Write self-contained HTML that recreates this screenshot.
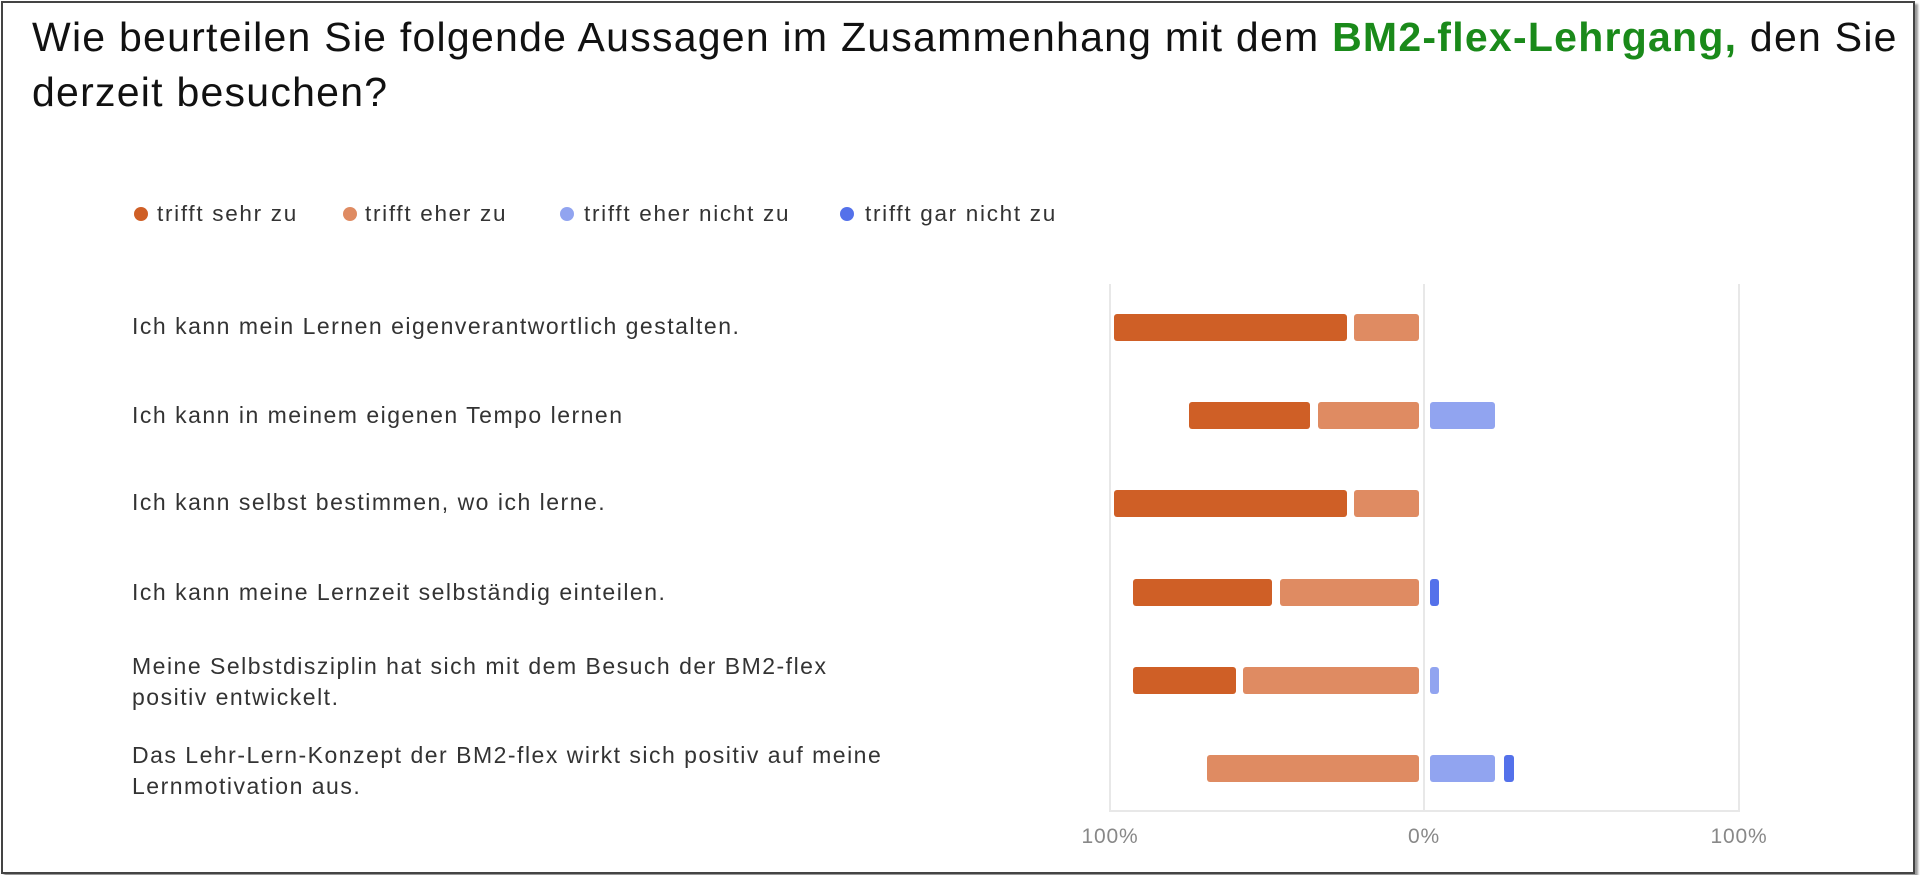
<!DOCTYPE html>
<html><head><meta charset="utf-8"><style>
body{margin:0;width:1920px;height:875px;background:#fff;overflow:hidden;font-family:"Liberation Sans",Arial,sans-serif;position:relative}
.frame{position:absolute;left:1px;top:1px;width:1910px;height:869px;border:2px solid #444;box-shadow:3px 3px 2px #999}
.t{position:absolute;left:32px;top:10px;font-size:41px;line-height:55px;color:#111;letter-spacing:1.25px;white-space:nowrap}
.lg{position:absolute;top:200px;font-size:22.5px;color:#333;line-height:28px;letter-spacing:1.7px;white-space:nowrap}
.dot{position:absolute;width:14px;height:14px;border-radius:50%;top:207px}
.lab{position:absolute;left:132px;font-size:23px;color:#333;line-height:31px;letter-spacing:1.5px;white-space:nowrap}
.g{position:absolute;top:284px;height:527px;width:2px;background:#e8e8e8}
.b{position:absolute;height:27px;border-radius:3px}
.d{background:#cf5f26}.l{background:#df8b62}.lb{background:#91a4f0}.bb{background:#5471ea}
.ax{position:absolute;top:825px;font-size:21px;color:#888;width:100px;text-align:center;letter-spacing:0.8px}
</style></head><body>
<div class="frame"></div>
<div class="t">Wie beurteilen Sie folgende Aussagen im Zusammenhang mit dem <b style="color:#1a8a1a">BM2-flex-Lehrgang,</b> den Sie<br>derzeit besuchen?</div>
<div class="dot d" style="left:134px"></div><div class="lg" style="left:157px">trifft sehr zu</div>
<div class="dot l" style="left:343px"></div><div class="lg" style="left:365px">trifft eher zu</div>
<div class="dot lb" style="left:560px"></div><div class="lg" style="left:584px">trifft eher nicht zu</div>
<div class="dot bb" style="left:840px"></div><div class="lg" style="left:865px">trifft gar nicht zu</div>
<div class="lab" style="top:311px">Ich kann mein Lernen eigenverantwortlich gestalten.</div>
<div class="lab" style="top:400px">Ich kann in meinem eigenen Tempo lernen</div>
<div class="lab" style="top:487px">Ich kann selbst bestimmen, wo ich lerne.</div>
<div class="lab" style="top:577px">Ich kann meine Lernzeit selbständig einteilen.</div>
<div class="lab" style="top:651px">Meine Selbstdisziplin hat sich mit dem Besuch der BM2-flex<br>positiv entwickelt.</div>
<div class="lab" style="top:740px">Das Lehr-Lern-Konzept der BM2-flex wirkt sich positiv auf meine<br>Lernmotivation aus.</div>
<div class="g" style="left:1109px"></div><div class="g" style="left:1423px"></div><div class="g" style="left:1738px"></div>
<div style="position:absolute;left:1109px;top:810px;width:631px;height:2px;background:#e8e8e8"></div>
<div class="b d" style="left:1114px;width:233px;top:314px"></div><div class="b l" style="left:1354px;width:65px;top:314px"></div>
<div class="b d" style="left:1189px;width:121px;top:402px"></div><div class="b l" style="left:1318px;width:101px;top:402px"></div><div class="b lb" style="left:1430px;width:65px;top:402px"></div>
<div class="b d" style="left:1114px;width:233px;top:490px"></div><div class="b l" style="left:1354px;width:65px;top:490px"></div>
<div class="b d" style="left:1133px;width:139px;top:579px"></div><div class="b l" style="left:1280px;width:139px;top:579px"></div><div class="b bb" style="left:1430px;width:9px;top:579px"></div>
<div class="b d" style="left:1133px;width:103px;top:667px"></div><div class="b l" style="left:1243px;width:176px;top:667px"></div><div class="b lb" style="left:1430px;width:9px;top:667px"></div>
<div class="b l" style="left:1207px;width:212px;top:755px"></div><div class="b lb" style="left:1430px;width:65px;top:755px"></div><div class="b bb" style="left:1504px;width:10px;top:755px"></div>
<div class="ax" style="left:1060px">100%</div><div class="ax" style="left:1374px">0%</div><div class="ax" style="left:1689px">100%</div>
</body></html>
